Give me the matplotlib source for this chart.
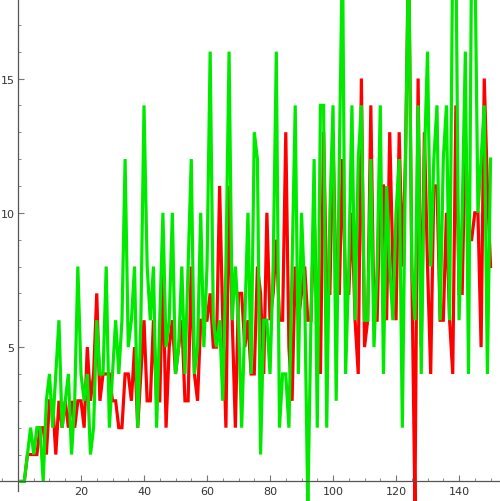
import numpy as np
import matplotlib
matplotlib.use("Agg")
import matplotlib.pyplot as plt
from matplotlib.ticker import MultipleLocator

# values, index n = 1..150
n = np.arange(1, 151)

green_vals = [0, 0, 1, 2, 1, 2, 2, 0, 3, 4, 2, 4, 6, 2, 3, 4, 1, 3, 8, 4,
              3, 4, 1, 2, 6, 4, 4, 8, 2, 4, 6, 4, 6, 12, 5, 6, 8, 2, 6, 14,
              8, 6, 8, 2, 6, 10, 5, 6, 10, 4, 5, 8, 4, 8, 12, 4, 5, 10, 5, 8,
              16, 6, 5, 6, 3, 8, 16, 6, 8, 6, 2, 6, 10, 4, 13, 12, 1, 6, 6, 4,
              8, 16, 2, 4, 4, 2, 8, 14, 4, 10, 7, -1, 6, 12, 2, 14, 14, 2, 10, 14,
              3, 12, 20, 4, 8, 14, 6, 12, 14, 6, 6, 12, 5, 8, 14, 4, 11, 8, 6, 10,
              12, 2, 12, 20, 8, 6, 14, 4, 12, 16, 8, 12, 14, 6, 12, 14, 6, 20, 20, 6,
              10, 16, 4, 20, 20, 10, 12, 14, 4, 12]

red_vals = [0, 0, 1, 1, 1, 1, 2, 2, 1, 3, 3, 1, 3, 2, 3, 2, 3, 2, 3, 3,
            2, 5, 3, 4, 7, 3, 4, 4, 4, 3, 3, 2, 2, 4, 4, 3, 5, 2, 4, 6,
            3, 3, 6, 3, 3, 8, 2, 5, 6, 4, 5, 6, 3, 3, 8, 4, 3, 6, 6, 6,
            7, 5, 5, 11, 6, 2, 11, 6, 2, 7, 7, 5, 6, 4, 4, 8, 7, 4, 10, 6,
            7, 9, 6, 6, 13, 5, 3, 8, 6, 7, 8, 6, 6, 10, 6, 4, 13, 7, 7, 13,
            7, 7, 12, 7, 7, 10, 6, 4, 15, 5, 6, 14, 6, 6, 11, 11, 6, 13, 8, 6,
            13, 8, 12, 20, 8, -1, 15, 5, 13, 8, 4, 11, 11, 6, 6, 10, 6, 4, 14, 7,
            7, 13, 9, 9, 10, 10, 5, 15, 11, 8]

fig = plt.figure(figsize=(5.0, 5.02), dpi=100)
ax = fig.add_axes([0, 0, 1, 1])

ax.plot(n, red_vals, color="#ff0000", lw=2.3, solid_joinstyle="miter")
ax.plot(n, green_vals, color="#00ea00", lw=2.3, solid_joinstyle="miter")

ax.set_xlim(-5.71, 153.0)
ax.set_ylim(-0.73, 17.96)

for s in ["top", "right"]:
    ax.spines[s].set_visible(False)
ax.spines["left"].set_position(("data", 0))
ax.spines["bottom"].set_position(("data", 0))
ax.spines["left"].set_bounds(-0.37, 17.96)
for s in ["left", "bottom"]:
    ax.spines[s].set_color("#555555")
    ax.spines[s].set_linewidth(0.9)

ax.xaxis.set_major_locator(MultipleLocator(20))
ax.xaxis.set_minor_locator(MultipleLocator(5))
ax.yaxis.set_major_locator(MultipleLocator(5))
ax.yaxis.set_minor_locator(MultipleLocator(1))
ax.set_xticks([20, 40, 60, 80, 100, 120, 140])
ax.set_yticks([5, 10, 15])

ax.tick_params(which="both", direction="in", colors="#777777", labelcolor="#333333",
               labelsize=8)
ax.tick_params(which="major", length=4, width=0.8, pad=3)
ax.tick_params(which="minor", length=2.5, width=0.6)
ax.tick_params(axis="y", pad=2.5)

fig.savefig("out.png", dpi=100)
